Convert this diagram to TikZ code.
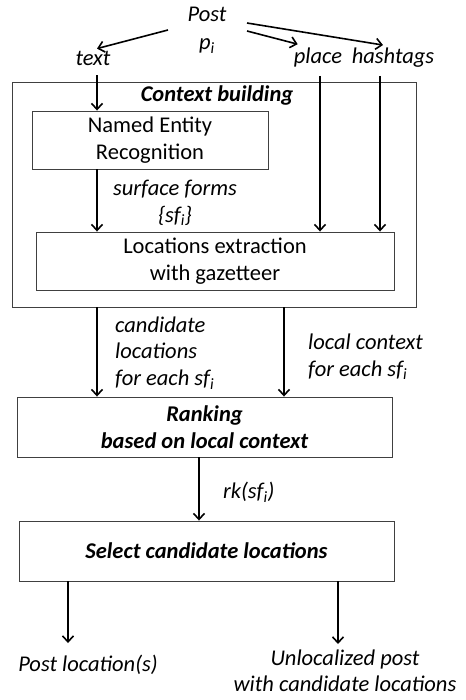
\documentclass[tikz,border=0pt]{standalone}
\usepackage{fontspec}
\setmainfont{Carlito}
\usetikzlibrary{arrows.meta}

\begin{document}
\begin{tikzpicture}[x=1pt,y=-1pt,
		every node/.style={font=\fontsize{22.5}{26.5}\selectfont},
		box/.style={draw=black!75, line width=0.9pt, inner sep=0pt},
		lbl/.style={inner sep=0pt, font=\fontsize{22.5}{26.5}\selectfont\itshape},
		arr/.style={-{Straight Barb[length=6pt,width=11pt]}, line width=1.6pt}]
		\useasboundingbox (0,0) rectangle (465,700);

		% Kaesten
		\node[box, minimum width=404pt, minimum height=225pt] (ctx) at (214,194.5) {};
		\node[lbl, font=\fontsize{22.5}{26.5}\selectfont\bfseries\itshape] (ctxlbl) at (217,96) {Context building};
		\node[box, minimum width=236pt, minimum height=58pt, align=center] (ner) at (150,140) {Named Entity\\Recognition};
		\node[box, minimum width=358pt, minimum height=58pt, align=center] (loc) at (215,261) {Locations extraction\\with gazetteer};
		\node[box, minimum width=375pt, minimum height=60pt, align=center,
			font=\fontsize{22.5}{26.5}\selectfont\bfseries\itshape] (rank) at (204.5,427) {Ranking\\based on local context};
		\node[box, minimum width=375pt, minimum height=60pt,
			font=\fontsize{22.5}{26.5}\selectfont\bfseries\itshape] (sel) at (206.5,551) {Select candidate locations};

		% Texte
		\node[lbl, align=center] (post) at (207,30) {Post\\[2pt]p\textsubscript{i}};
		\node[lbl] (txt) at (93,58) {text};
		\node[lbl] (place) at (318,58) {place};
		\node[lbl] (tags) at (393,58) {hashtags};
		\node[lbl, align=center] (sf) at (175,203) {surface forms\\\{sf\textsubscript{i}\}};
		\node[lbl, align=left, anchor=west] (cand) at (115,353) {candidate\\locations\\for each sf\textsubscript{i}};
		\node[lbl, align=left, anchor=west] (lctx) at (308,357) {local context\\for each sf\textsubscript{i}};
		\node[lbl, anchor=west] (rk) at (223,492) {rk(sf\textsubscript{i})};
		\node[lbl] (out1) at (88,665) {Post location(s)};
		\node[lbl, align=center] (out2) at (345,671) {Unlocalized post\\with candidate locations};

		% Koordinaten
		\coordinate (p1) at (168,30);
		\coordinate (p2) at (247,31);
		\coordinate (p3) at (247,23);

		% Pfeile
		\draw[arr] (p1) -- ([xshift=4pt,yshift=2pt]txt.north);
		\draw[arr] (p2) -- ([xshift=4pt,yshift=4pt]place.north west);
		\draw[arr] (p3) -- ([xshift=-10pt,yshift=3pt]tags.north);
		\draw[arr] ([xshift=4pt,yshift=-10pt]txt.south) -- ([xshift=4pt]txt.south |- ner.north);
		\draw[arr] ([xshift=2pt,yshift=-8pt]place.south) -- ([xshift=2pt]place.south |- loc.north);
		\draw[arr] ([xshift=-13pt,yshift=-8pt]tags.south) -- ([xshift=-13pt]tags.south |- loc.north);
		\draw[arr] (ner.south -| 97,0) -- (loc.north -| 97,0);
		\draw[arr] (ctx.south -| 97,0) -- (rank.north -| 97,0);
		\draw[arr] (ctx.south -| 284,0) -- (rank.north -| 284,0);
		\draw[arr] (rank.south -| 199,0) -- (sel.north -| 199,0);
		\draw[arr] (sel.south -| 68,0) -- ([yshift=12pt]out1.north -| 68,0);
		\draw[arr] (sel.south -| 338,0) -- (338,644);
\end{tikzpicture}
\end{document}
